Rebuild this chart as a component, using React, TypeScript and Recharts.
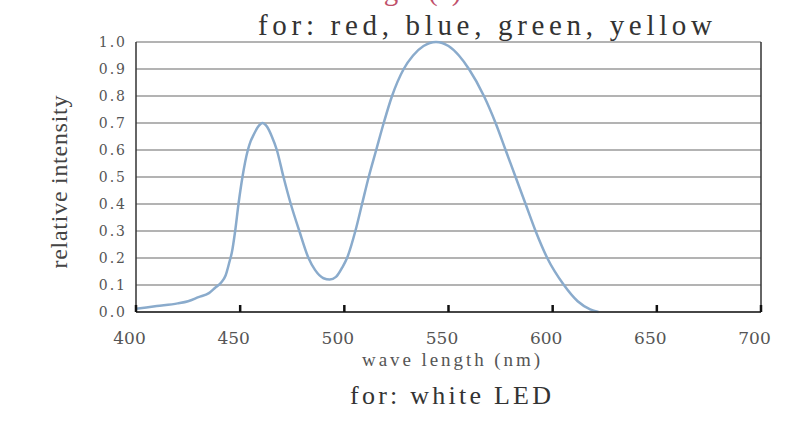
import React from "react";
import { LineChart, Line, XAxis, YAxis, CartesianGrid, ReferenceLine } from "recharts";

const wavelengths = [
  400, 410, 420, 425, 430, 435, 438, 441, 443, 445, 446, 447.6, 449.2, 451.1, 453.7, 455, 456.4, 458.5,
  460.7, 463, 465.2, 467.6, 470.8, 474.3, 478.4, 482.8, 486, 490, 493, 496, 499, 501.3, 505.3, 508.5,
  511.7, 515.3, 518.9, 522.9, 528.5, 533, 538, 544, 550, 555, 559.8, 567, 572.6, 577.4, 582.2, 587, 591.8,
  597.4, 605.4, 612, 618, 622,
];
const intensity = [
  0.012, 0.022, 0.032, 0.04, 0.055, 0.07, 0.09, 0.11, 0.135, 0.19, 0.22, 0.3, 0.4, 0.5, 0.6, 0.632, 0.655,
  0.685, 0.7, 0.685, 0.65, 0.6, 0.5, 0.4, 0.3, 0.2, 0.155, 0.125, 0.12, 0.13, 0.165, 0.2, 0.3, 0.4, 0.5,
  0.6, 0.7, 0.8, 0.9, 0.95, 0.985, 1.0, 0.985, 0.95, 0.9, 0.8, 0.7, 0.6, 0.5, 0.4, 0.3, 0.2, 0.1, 0.04,
  0.01, 0,
];
const xTicks = [400, 450, 500, 550, 600, 650, 700];
const yTicks = [0, 0.1, 0.2, 0.3, 0.4, 0.5, 0.6, 0.7, 0.8, 0.9, 1.0];

const data = wavelengths.map((nm, i) => ({ nm, v: intensity[i] }));

const XTick = (props: any) => {
  const { x, y, payload } = props;
  return (
    <g>
      <line x1={x} x2={x} y1={y - 7} y2={y} stroke="#111" strokeWidth={2.5} />
      <text x={x - 6.5} y={y + 32} textAnchor="middle" fontFamily="DejaVu Serif" fontSize={17} fill="#555">
        {payload.value}
      </text>
    </g>
  );
};

export default function App() {
  return (
    <div style={{ position: "absolute", left: 0, top: 0, width: 800, height: 424, background: "#fff" }}>
      <LineChart width={800} height={424} data={data} margin={{ top: 42, right: 39, left: 76, bottom: 62 }}>
        <CartesianGrid vertical={false} stroke="#9a9a9a" strokeWidth={1.5} />
        <XAxis
          dataKey="nm"
          type="number"
          domain={[400, 700]}
          ticks={xTicks}
          interval={0}
          height={50}
          tickSize={0}
          tickMargin={0}
          tickLine={false}
          tick={<XTick />}
          axisLine={{ stroke: "#222", strokeWidth: 1.5 }}
        />
        <YAxis
          type="number"
          domain={[0, 1]}
          ticks={yTicks}
          interval={0}
          width={60}
          tickSize={0}
          tickMargin={9}
          tickLine={false}
          tickFormatter={(v: number) => v.toFixed(1)}
          tick={{ fontFamily: "DejaVu Serif", fontSize: 14, fill: "#555", letterSpacing: 2 }}
          axisLine={{ stroke: "#333", strokeWidth: 1.5 }}
        />
        <ReferenceLine x={700} stroke="#333" strokeWidth={1.5} />
        <Line
          type="monotone"
          dataKey="v"
          stroke="#8aabcc"
          strokeWidth={2.5}
          dot={false}
          isAnimationActive={false}
        />
      </LineChart>
      <svg width={800} height={424} style={{ position: "absolute", left: 0, top: 0, pointerEvents: "none" }}>
        <text x={283} y={0} fontFamily="Liberation Serif" fontSize={29} fill="#c0506a">
          Wavelength (λ)
        </text>
        <text
          x={258}
          y={35}
          fontFamily="Liberation Serif"
          fontSize={29}
          fill="#333"
          textLength={454}
          lengthAdjust="spacing"
        >
          for: red, blue, green, yellow
        </text>
        <text
          x={67}
          y={182}
          transform="rotate(-90, 67, 182)"
          textAnchor="middle"
          fontFamily="Liberation Serif"
          fontSize={24}
          fill="#444"
          textLength={173}
          lengthAdjust="spacing"
        >
          relative intensity
        </text>
        <text
          x={362}
          y={366}
          fontFamily="Liberation Serif"
          fontSize={19}
          fill="#555"
          textLength={178}
          lengthAdjust="spacing"
        >
          wave length (nm)
        </text>
        <text
          x={350}
          y={404}
          fontFamily="Liberation Serif"
          fontSize={26}
          fill="#333"
          textLength={201}
          lengthAdjust="spacing"
        >
          for: white LED
        </text>
      </svg>
    </div>
  );
}
